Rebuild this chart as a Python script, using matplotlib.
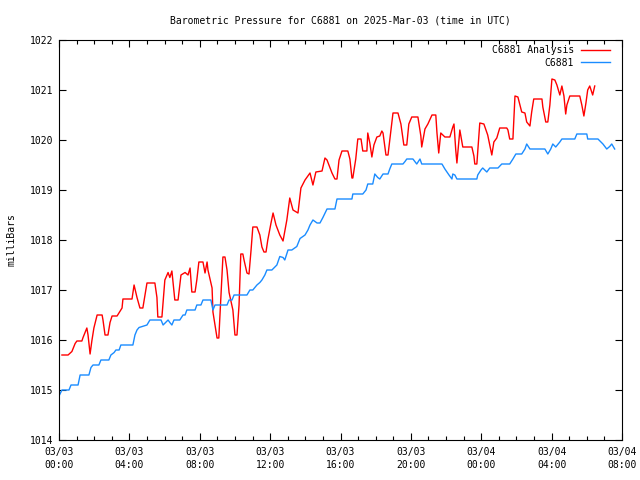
import matplotlib
matplotlib.use('Agg')
import matplotlib.pyplot as plt
import matplotlib.dates as mdates
import numpy as np
import pandas as pd

start = pd.Timestamp('2025-03-03 00:00')

# minutes after 03/03 00:00 UTC, and pressure in mb
analysis_min = [10, 31, 44, 55, 61, 78, 82, 95, 99, 106, 112, 119, 130, 147, 150, 157, 167, 174, 181, 198,
                215, 218, 249, 256, 266, 276, 286, 300, 327, 334, 337, 351, 361, 372, 378, 385, 395, 406, 416, 430,
                440, 447, 453, 464, 470, 477, 491, 498, 505, 508, 522, 525, 539, 545, 549, 559, 566, 573, 580, 593,
                600, 607, 614, 620, 627, 631, 641, 648, 655, 661, 675, 685, 692, 699, 706, 712, 723, 730, 740, 753,
                764, 777, 787, 798, 815, 825, 839, 856, 866, 876, 897, 907, 914, 931, 941, 948, 955, 965, 985, 992,
                999, 1002, 1012, 1019, 1030, 1036, 1050, 1053, 1060, 1067, 1074, 1084, 1094, 1101, 1105, 1115, 1122,
                1128, 1139, 1156, 1166, 1176, 1186, 1193, 1203, 1224, 1234, 1237, 1248, 1258, 1272, 1285, 1289,
                1295, 1302, 1316, 1333, 1343, 1347, 1353, 1357, 1367, 1377, 1408, 1415, 1418, 1425, 1435, 1449,
                1462, 1476, 1483, 1493, 1503, 1527, 1531, 1537, 1548, 1555, 1565, 1578, 1589, 1595, 1606, 1612,
                1619, 1647, 1650, 1660, 1667, 1674, 1681, 1691, 1698, 1708, 1715, 1722, 1728, 1732, 1742, 1776,
                1783, 1790, 1797, 1803, 1810, 1820, 1827]
analysis_mb = [1015.70, 1015.70, 1015.77, 1015.93, 1015.98, 1015.98, 1016.05, 1016.24, 1016.10, 1015.72,
               1015.98, 1016.24, 1016.50, 1016.50, 1016.40, 1016.10, 1016.10, 1016.35, 1016.48, 1016.48,
               1016.64, 1016.82, 1016.82, 1017.10, 1016.85, 1016.64, 1016.64, 1017.14, 1017.14, 1016.85,
               1016.46, 1016.46, 1017.20, 1017.35, 1017.25, 1017.38, 1016.80, 1016.80, 1017.30, 1017.35,
               1017.30, 1017.44, 1016.96, 1016.96, 1017.20, 1017.56, 1017.56, 1017.34, 1017.56, 1017.40,
               1017.04, 1016.56, 1016.04, 1016.04, 1016.50, 1017.66, 1017.66, 1017.40, 1016.95, 1016.60,
               1016.10, 1016.10, 1016.70, 1017.72, 1017.72, 1017.60, 1017.34, 1017.32, 1017.80, 1018.26,
               1018.26, 1018.10, 1017.86, 1017.76, 1017.76, 1018.00, 1018.34, 1018.54, 1018.30, 1018.10,
               1017.98, 1018.40, 1018.84, 1018.60, 1018.54, 1019.04, 1019.20, 1019.34, 1019.10, 1019.36,
               1019.38, 1019.64, 1019.60, 1019.34, 1019.22, 1019.22, 1019.60, 1019.78, 1019.78, 1019.62,
               1019.24, 1019.24, 1019.62, 1020.02, 1020.02, 1019.78, 1019.78, 1020.14, 1019.94, 1019.66,
               1019.90, 1020.06, 1020.08, 1020.18, 1020.14, 1019.70, 1019.70, 1020.00, 1020.54, 1020.54,
               1020.32, 1019.90, 1019.90, 1020.32, 1020.46, 1020.46, 1020.08, 1019.86, 1020.22, 1020.32,
               1020.50, 1020.50, 1020.14, 1019.74, 1020.14, 1020.06, 1020.06, 1020.26, 1020.32, 1019.80,
               1019.54, 1020.20, 1019.86, 1019.86, 1019.68, 1019.52, 1019.52, 1020.34, 1020.32, 1020.10,
               1019.70, 1019.96, 1020.04, 1020.24, 1020.24, 1020.20, 1020.02, 1020.02, 1020.88, 1020.86,
               1020.56, 1020.54, 1020.36, 1020.28, 1020.56, 1020.82, 1020.82, 1020.66, 1020.36, 1020.36,
               1020.70, 1021.22, 1021.20, 1021.10, 1020.90, 1021.08, 1020.88, 1020.52, 1020.70, 1020.88,
               1020.88, 1020.70, 1020.48, 1020.74, 1021.00, 1021.08, 1020.90, 1021.08]

station_min = [0, 10, 34, 41, 65, 72, 102, 109, 116, 136, 143, 170, 177, 188, 194, 205, 211, 252, 259, 266,
               273, 300, 310, 348, 355, 372, 378, 385, 392, 412, 423, 430, 436, 464, 470, 484, 491, 518, 525,
               532, 573, 580, 590, 597, 641, 651, 661, 675, 685, 692, 702, 709, 726, 743, 753, 764, 770, 781,
               794, 811, 822, 839, 849, 856, 866, 880, 890, 900, 914, 941, 948, 999, 1002, 1036, 1047, 1053,
               1070, 1077, 1087, 1094, 1105, 1122, 1128, 1135, 1173, 1180, 1186, 1207, 1220, 1231, 1237, 1306,
               1316, 1330, 1340, 1343, 1350, 1357, 1425, 1428, 1439, 1445, 1459, 1469, 1497, 1510, 1537, 1548,
               1558, 1578, 1589, 1595, 1606, 1657, 1667, 1677, 1684, 1694, 1708, 1715, 1759, 1766, 1800, 1803,
               1838, 1855, 1868, 1878, 1885, 1895]
station_mb = [1014.88, 1015.0, 1015.0, 1015.1, 1015.1, 1015.3, 1015.3, 1015.45, 1015.5, 1015.5, 1015.6,
              1015.6, 1015.7, 1015.75, 1015.8, 1015.8, 1015.9, 1015.9, 1016.1, 1016.2, 1016.25, 1016.3,
              1016.4, 1016.4, 1016.3, 1016.4, 1016.35, 1016.3, 1016.4, 1016.4, 1016.5, 1016.5, 1016.6,
              1016.6, 1016.7, 1016.7, 1016.8, 1016.8, 1016.6, 1016.7, 1016.7, 1016.8, 1016.8, 1016.9,
              1016.9, 1017.0, 1017.0, 1017.1, 1017.15, 1017.2, 1017.3, 1017.4, 1017.4, 1017.5, 1017.67,
              1017.65, 1017.6, 1017.8, 1017.8, 1017.87, 1018.03, 1018.1, 1018.2, 1018.3, 1018.4, 1018.34,
              1018.34, 1018.45, 1018.62, 1018.62, 1018.82, 1018.82, 1018.92, 1018.92, 1019.0, 1019.12,
              1019.12, 1019.32, 1019.25, 1019.22, 1019.32, 1019.32, 1019.42, 1019.52, 1019.52, 1019.57,
              1019.62, 1019.62, 1019.52, 1019.62, 1019.52, 1019.52, 1019.42, 1019.3, 1019.22, 1019.32,
              1019.3, 1019.22, 1019.22, 1019.3, 1019.4, 1019.44, 1019.36, 1019.44, 1019.44, 1019.52,
              1019.52, 1019.62, 1019.72, 1019.72, 1019.82, 1019.92, 1019.82, 1019.82, 1019.72, 1019.82,
              1019.92, 1019.86, 1019.96, 1020.02, 1020.02, 1020.12, 1020.12, 1020.02, 1020.02, 1019.92,
              1019.82, 1019.87, 1019.92, 1019.82]

t_analysis = start + pd.to_timedelta(analysis_min, unit='m')
t_station = start + pd.to_timedelta(station_min, unit='m')

plt.rcParams['font.family'] = 'DejaVu Sans Mono'
plt.rcParams['font.size'] = 7

fig = plt.figure(figsize=(6.4, 4.8), dpi=100)
ax = fig.add_axes([59 / 640, 40 / 480, 563 / 640, 400 / 480])

ax.plot(t_analysis, analysis_mb, color='#ff0000', lw=1.0, label='C6881 Analysis')
ax.plot(t_station, station_mb, color='#1a8cff', lw=1.0, label='C6881')

ax.set_xlim(start, start + pd.Timedelta(hours=32))
ax.set_ylim(1014, 1022)
ax.set_yticks(np.arange(1014, 1023, 1))
ax.xaxis.set_major_locator(mdates.HourLocator(byhour=[0, 4, 8, 12, 16, 20]))
ax.xaxis.set_minor_locator(mdates.HourLocator())
ax.xaxis.set_major_formatter(mdates.DateFormatter('%m/%d\n%H:%M'))
for lbl in ax.get_xticklabels():
    lbl.set_linespacing(1.35)

ax.tick_params(which='both', direction='in', top=True, right=True, width=0.8, labelsize=7)
ax.tick_params(which='major', length=5, pad=5)
ax.tick_params(axis='y', which='major', pad=4)
ax.tick_params(which='minor', length=3)
for s in ax.spines.values():
    s.set_linewidth(0.8)

ax.set_title('Barometric Pressure for C6881 on 2025-Mar-03 (time in UTC)', fontsize=7, pad=12)
ax.set_ylabel('milliBars', fontsize=7, labelpad=10)

ax.legend(loc='upper right', bbox_to_anchor=(0.9876, 1.0), frameon=False, markerfirst=False, fontsize=7,
          handlelength=2.9, handletextpad=0.75, labelspacing=0.25, borderaxespad=0.15)

fig.savefig('out.png', dpi=100)
